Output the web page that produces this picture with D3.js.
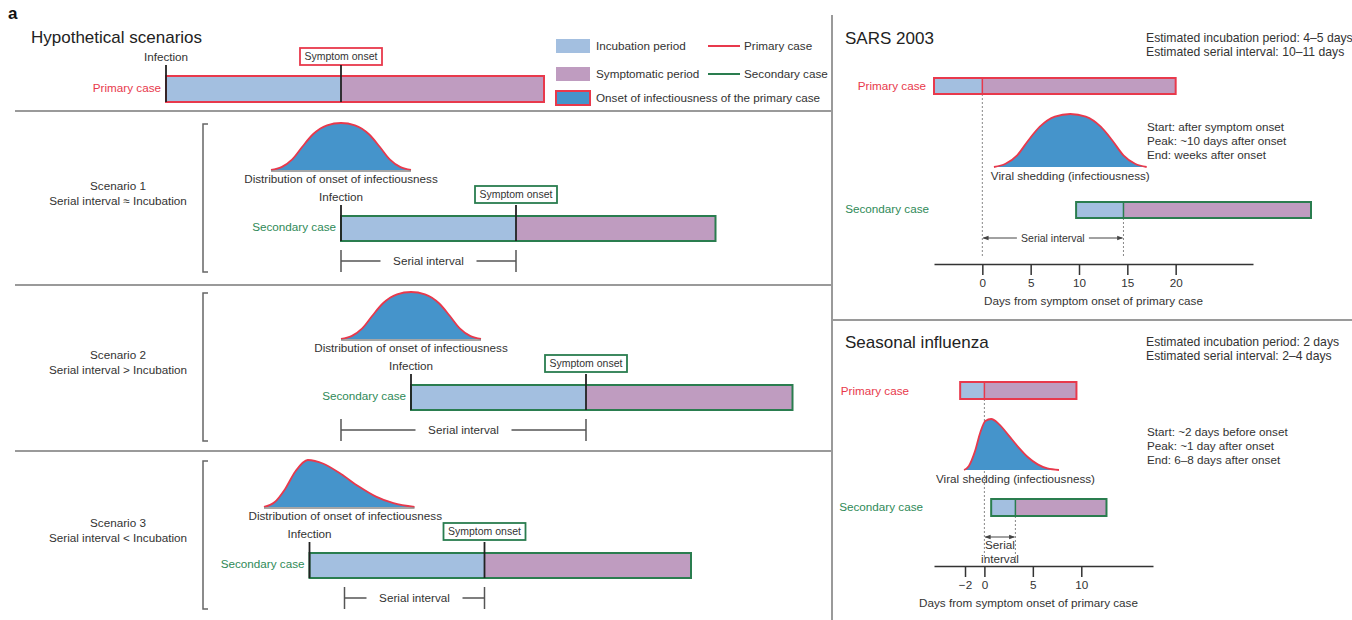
<!DOCTYPE html>
<html>
<head>
<meta charset="utf-8">
<script src="https://cdn.jsdelivr.net/npm/d3@7"></script>
<style>
  body { margin: 0; background: #fff; }
  svg { font-family: "Liberation Sans", Arial, sans-serif; }
  .axis text { font-size: 11.7px; fill: #333; font-family: "Liberation Sans", Arial, sans-serif; }
  .axis path, .axis line { stroke: #333; stroke-width: 1.5; }
</style>
</head>
<body>
<svg id="chart"></svg>
<script>
// ---- data ----
// hypothetical scenarios, arbitrary time units (incubation = 5)
const primaryTimes = [0, 5, 10.8];              // infection, symptom onset, end
const scenarioNames = ['Scenario 1', 'Scenario 2', 'Scenario 3'];
const scenarioSubtitles = ['Serial interval \u2248 Incubation', 'Serial interval > Incubation', 'Serial interval < Incubation'];
const secondaryInfection = [5, 7, 4.1];
const secondaryOnset = [10, 12, 9.1];
const secondaryEnd = [15.7, 17.9, 15.0];
const serialStart = [5, 5, 5.1];
// infectiousness distribution: [time, relative height]
const curveScenario1 = [[3, 0], [3.3, 0.06], [3.6, 0.22], [3.9, 0.5], [4.2, 0.76], [4.6, 0.95], [5, 1], [5.4, 0.95], [5.8, 0.76], [6.1, 0.5], [6.4, 0.22], [6.7, 0.06], [7, 0]];
const curveScenario2 = [[5, 0], [5.3, 0.06], [5.6, 0.22], [5.9, 0.5], [6.2, 0.76], [6.6, 0.95], [7, 1], [7.4, 0.95], [7.8, 0.76], [8.1, 0.5], [8.4, 0.22], [8.7, 0.06], [9, 0]];
const curveScenario3 = [[2.8, 0], [3.1, 0.1], [3.4, 0.38], [3.7, 0.76], [4.05, 1], [4.5, 0.92], [5, 0.7], [5.5, 0.44], [6, 0.22], [6.5, 0.08], [7.1, 0]];

// SARS 2003, days from symptom onset of primary case
const sarsPrimary = [-5, 0, 20];
const sarsSecondary = [9.7, 14.6, 34];
const sarsShedding = [[1.2, 0], [2.4, 0.06], [3.6, 0.22], [4.75, 0.5], [5.95, 0.76], [7.5, 0.95], [9.1, 1], [10.7, 0.95], [12.25, 0.76], [13.45, 0.5], [14.6, 0.22], [15.8, 0.06], [17, 0]];
const sarsTicks = [0, 5, 10, 15, 20];
const sarsNotes = ['Estimated incubation period: 4\u20135 days', 'Estimated serial interval: 10\u201311 days'];
const sarsShedNotes = ['Start: after symptom onset', 'Peak: ~10 days after onset', 'End: weeks after onset'];

// Seasonal influenza
const fluPrimary = [-2.5, 0, 9.5];
const fluSecondary = [0.7, 3.2, 12.6];
const fluShedding = [[-2.1, 0], [-1.6, 0.08], [-1, 0.35], [-0.4, 0.75], [0.1, 0.96], [0.7, 1], [1.5, 0.9], [2.5, 0.68], [3.5, 0.45], [4.5, 0.25], [5.5, 0.11], [6.5, 0.03], [7.7, 0]];
const fluTicks = [-2, 0, 5, 10];
const fluNotes = ['Estimated incubation period: 2 days', 'Estimated serial interval: 2\u20134 days'];
const fluShedNotes = ['Start: ~2 days before onset', 'Peak: ~1 day after onset', 'End: 6\u20138 days after onset'];

const legendSwatches = ['Incubation period', 'Symptomatic period', 'Onset of infectiousness of the primary case'];
const legendLines = ['Primary case', 'Secondary case'];

// ---- styles ----
const C = {
  incub: '#a3bfe0', sympt: '#bf9cc0', infect: '#4594cb',
  red: '#e8394c', green: '#2a7d4f', greenText: '#2f8a58',
  text: '#333', divider: '#9a9a9a', black: '#222'
};
const FS = 11.7;

const W = 1352, H = 620;
const svg = d3.select('#chart').attr('width', W).attr('height', H);

function txt(g, x, y, s, opts = {}) {
  return g.append('text')
    .attr('x', x).attr('y', y)
    .attr('dy', '0.35em')
    .attr('text-anchor', opts.anchor || 'start')
    .attr('font-size', opts.size || FS)
    .attr('font-weight', opts.weight || 'normal')
    .attr('fill', opts.fill || C.text)
    .text(s);
}

// bar made of incubation + symptomatic parts
function caseBar(g, x, times, y, h, stroke, sepColor) {
  g.append('rect').attr('x', x(times[0])).attr('y', y)
    .attr('width', x(times[1]) - x(times[0])).attr('height', h).attr('fill', C.incub);
  g.append('rect').attr('x', x(times[1])).attr('y', y)
    .attr('width', x(times[2]) - x(times[1])).attr('height', h).attr('fill', C.sympt);
  g.append('rect').attr('x', x(times[0])).attr('y', y)
    .attr('width', x(times[2]) - x(times[0])).attr('height', h)
    .attr('fill', 'none').attr('stroke', stroke).attr('stroke-width', 2);
  if (sepColor) {
    g.append('line').attr('x1', x(times[1])).attr('x2', x(times[1]))
      .attr('y1', y).attr('y2', y + h).attr('stroke', sepColor).attr('stroke-width', 1.5);
  }
}

function bump(g, x, pts, base, height, withBase) {
  const y = d3.scaleLinear().domain([0, 1]).range([base, base - height]);
  const area = d3.area().x(d => x(d[0])).y0(base).y1(d => y(d[1])).curve(d3.curveMonotoneX);
  const line = d3.line().x(d => x(d[0])).y(d => y(d[1])).curve(d3.curveMonotoneX);
  g.append('path').datum(pts).attr('d', area).attr('fill', C.infect);
  g.append('path').datum(pts).attr('d', line).attr('fill', 'none').attr('stroke', C.red).attr('stroke-width', 1.8);
  if (withBase) {
    g.append('line').attr('x1', x(pts[0][0])).attr('x2', x(pts[pts.length - 1][0]))
      .attr('y1', base + 1).attr('y2', base + 1).attr('stroke', '#888').attr('stroke-width', 1.5);
  }
}

function onsetBox(g, cx, y, stroke) {
  g.append('rect').attr('x', cx - 41).attr('y', y).attr('width', 82).attr('height', 17)
    .attr('fill', '#fff').attr('stroke', stroke).attr('stroke-width', 1.8);
  txt(g, cx, y + 8.5, 'Symptom onset', {anchor: 'middle', size: 10.5});
}

// ---- frame ----
txt(svg, 8, 13, 'a', {size: 17, weight: 'bold', fill: '#111'});
const dividers = svg.append('g').attr('stroke', C.divider).attr('stroke-width', 2);
[111, 285, 451].forEach(y => dividers.append('line').attr('x1', 15).attr('x2', 832).attr('y1', y).attr('y2', y));
dividers.append('line').attr('x1', 832).attr('x2', 832).attr('y1', 15).attr('y2', H);
dividers.append('line').attr('x1', 832).attr('x2', 1352).attr('y1', 320).attr('y2', 320);

// ---- hypothetical scenarios ----
const xL = d3.scaleLinear().domain([0, 5]).range([166, 341]);
const left = svg.append('g');
txt(left, 31, 37, 'Hypothetical scenarios', {size: 17, fill: '#222'});

// primary case
const pTop = 76, barH = 26;
txt(left, xL(primaryTimes[0]), 57, 'Infection', {anchor: 'middle'});
onsetBox(left, xL(primaryTimes[1]), 48, C.red);
caseBar(left, xL, primaryTimes, pTop, barH, C.red, null);
[primaryTimes[0], primaryTimes[1]].forEach(t => left.append('line')
  .attr('x1', xL(t)).attr('x2', xL(t)).attr('y1', pTop - 11).attr('y2', pTop + barH)
  .attr('stroke', C.black).attr('stroke-width', 1.8));
txt(left, xL(primaryTimes[0]) - 5, pTop + 12, 'Primary case', {anchor: 'end', fill: C.red});

// legend
const leg = svg.append('g');
const swFill = [C.incub, C.sympt, C.infect];
const legY = [46, 74, 98];
legendSwatches.forEach((s, i) => {
  leg.append('rect').attr('x', 556).attr('y', legY[i] - 7).attr('width', 34).attr('height', 14)
    .attr('fill', swFill[i]).attr('stroke', i === 2 ? C.red : 'none').attr('stroke-width', 2);
  txt(leg, 596, legY[i], s);
});
legendLines.forEach((s, i) => {
  leg.append('line').attr('x1', 708).attr('x2', 740).attr('y1', legY[i]).attr('y2', legY[i])
    .attr('stroke', i === 0 ? C.red : C.green).attr('stroke-width', 2);
  txt(leg, 744, legY[i], s);
});

const scenarioCurves = [curveScenario1, curveScenario2, curveScenario3];
const barTops = [216, 385, 553];
scenarioNames.forEach((name, i) => {
  const g = left.append('g');
  const top = barTops[i];
  const times = [secondaryInfection[i], secondaryOnset[i], secondaryEnd[i]];

  txt(g, 118, top - 30, name, {anchor: 'middle'});
  txt(g, 118, top - 15, scenarioSubtitles[i], {anchor: 'middle'});

  // bracket
  g.append('path')
    .attr('d', `M208,${top - 92}H203V${top + 56}H208`)
    .attr('fill', 'none').attr('stroke', '#666').attr('stroke-width', 1.5);

  const pts = scenarioCurves[i];
  bump(g, xL, pts, top - 46, 47, true);
  const mid = (pts[0][0] + pts[pts.length - 1][0]) / 2;
  txt(g, xL(mid) + (i === 2 ? 6 : 0), top - 37, 'Distribution of onset of infectiousness', {anchor: 'middle'});

  txt(g, xL(times[0]), top - 19, 'Infection', {anchor: 'middle'});
  onsetBox(g, xL(times[1]), top - 30, C.green);
  caseBar(g, xL, times, top, barH - 1, C.green, null);
  [times[0], times[1]].forEach(t => g.append('line')
    .attr('x1', xL(t)).attr('x2', xL(t)).attr('y1', top - 11).attr('y2', top + barH - 1)
    .attr('stroke', C.black).attr('stroke-width', 1.8));
  txt(g, xL(times[0]) - 5, top + 11, 'Secondary case', {anchor: 'end', fill: C.greenText});

  // serial interval
  const sy = top + 45;
  const a = xL(serialStart[i]), b = xL(times[1]), c = (a + b) / 2;
  const st = g.append('g').attr('stroke', '#555').attr('stroke-width', 1.5);
  st.append('line').attr('x1', a).attr('x2', a).attr('y1', sy - 11).attr('y2', sy + 11);
  st.append('line').attr('x1', b).attr('x2', b).attr('y1', sy - 11).attr('y2', sy + 11);
  st.append('line').attr('x1', a).attr('x2', c - 48).attr('y1', sy).attr('y2', sy);
  st.append('line').attr('x1', c + 48).attr('x2', b).attr('y1', sy).attr('y2', sy);
  txt(g, c, sy, 'Serial interval', {anchor: 'middle'});
});

// ---- right panels ----
const defs = svg.append('defs');
defs.append('marker')
  .attr('id', 'arr-end').attr('viewBox', '0 0 8 8').attr('refX', 7).attr('refY', 4)
  .attr('markerWidth', 6).attr('markerHeight', 6).attr('orient', 'auto-start-reverse')
  .append('path').attr('d', 'M0,1L8,4L0,7Z').attr('fill', '#444');

function panel(cfg) {
  const g = svg.append('g');
  const x = d3.scaleLinear().domain(cfg.domain).range([934, cfg.axisEnd]);
  txt(g, 845, cfg.titleY, cfg.title, {size: 17, fill: '#222'});
  cfg.notes.forEach((s, i) => txt(g, 1146, cfg.titleY + i * 14, s, {size: 12.2}));
  cfg.shedNotes.forEach((s, i) => txt(g, 1147, cfg.shedNoteY + i * 14, s));

  // dotted reference lines
  const dot = g.append('g').attr('stroke', '#888').attr('stroke-width', 1).attr('stroke-dasharray', '2,2');
  dot.append('line').attr('x1', x(cfg.primary[1])).attr('x2', x(cfg.primary[1]))
    .attr('y1', cfg.pY + cfg.bh).attr('y2', cfg.axisY - 8);
  dot.append('line').attr('x1', x(cfg.secondary[1])).attr('x2', x(cfg.secondary[1]))
    .attr('y1', cfg.sY + cfg.bh).attr('y2', cfg.axisY - 8);

  caseBar(g, x, cfg.primary, cfg.pY, cfg.bh, C.red, C.red);
  txt(g, cfg.pLabelX, cfg.pY + cfg.bh / 2, 'Primary case', {anchor: 'end', fill: C.red});
  caseBar(g, x, cfg.secondary, cfg.sY, cfg.bh, C.green, C.green);
  txt(g, cfg.sLabelX, cfg.sY + cfg.bh / 2 - 1, 'Secondary case', {anchor: 'end', fill: C.greenText});

  bump(g, x, cfg.shed, cfg.shedBase, cfg.shedH, false);
  const mid = (cfg.shed[0][0] + cfg.shed[cfg.shed.length - 1][0]) / 2;
  txt(g, x(mid) + cfg.shedLabelDx, cfg.shedBase + 9, 'Viral shedding (infectiousness)', {anchor: 'middle'});

  // axis
  const axis = d3.axisBottom(x).tickValues(cfg.ticks).tickSize(11).tickSizeOuter(0).tickPadding(4)
    .tickFormat(d => d < 0 ? '\u2212' + Math.abs(d) : d);
  g.append('g').attr('class', 'axis').attr('transform', `translate(0,${cfg.axisY})`).call(axis);
  txt(g, (934 + cfg.axisEnd) / 2 + cfg.titleDx, cfg.axisY + 37, 'Days from symptom onset of primary case', {anchor: 'middle'});
  return {g, x};
}

// SARS
const sars = panel({
  title: 'SARS 2003', titleY: 38, notes: sarsNotes, shedNotes: sarsShedNotes, shedNoteY: 127,
  domain: [-5, 28], axisEnd: 1253, axisY: 264, ticks: sarsTicks,
  primary: sarsPrimary, secondary: sarsSecondary, pY: 78, sY: 202, bh: 16, pLabelX: 926, sLabelX: 929,
  shed: sarsShedding, shedBase: 167, shedH: 53, shedLabelDx: 0, titleDx: 0
});
{
  const x = sars.x, y = 238;
  const a = x(sarsPrimary[1]), b = x(sarsSecondary[1]), c = (a + b) / 2;
  const g = sars.g.append('g').attr('stroke', '#444').attr('stroke-width', 1);
  g.append('line').attr('x1', c - 36).attr('x2', a + 1).attr('y1', y).attr('y2', y).attr('marker-end', 'url(#arr-end)');
  g.append('line').attr('x1', c + 36).attr('x2', b - 1).attr('y1', y).attr('y2', y).attr('marker-end', 'url(#arr-end)');
  txt(sars.g, c, y, 'Serial interval', {anchor: 'middle', size: 10.5});
}

// Influenza
const flu = panel({
  title: 'Seasonal influenza', titleY: 342, notes: fluNotes, shedNotes: fluShedNotes, shedNoteY: 432,
  domain: [-5.2, 17.4], axisEnd: 1153, axisY: 566, ticks: fluTicks,
  primary: fluPrimary, secondary: fluSecondary, pY: 382, sY: 499, bh: 17, pLabelX: 909, sLabelX: 923,
  shed: fluShedding, shedBase: 470, shedH: 51, shedLabelDx: 4, titleDx: -15
});
{
  const x = flu.x, y = 537;
  const a = x(fluPrimary[1]), b = x(fluSecondary[1]);
  flu.g.append('line').attr('x1', a + 1).attr('x2', b - 1).attr('y1', y).attr('y2', y)
    .attr('stroke', '#444').attr('stroke-width', 1)
    .attr('marker-start', 'url(#arr-end)').attr('marker-end', 'url(#arr-end)');
  txt(flu.g, (a + b) / 2, y + 8, 'Serial', {anchor: 'middle'});
  txt(flu.g, (a + b) / 2, y + 22, 'interval', {anchor: 'middle'});
}
</script>
</body>
</html>
